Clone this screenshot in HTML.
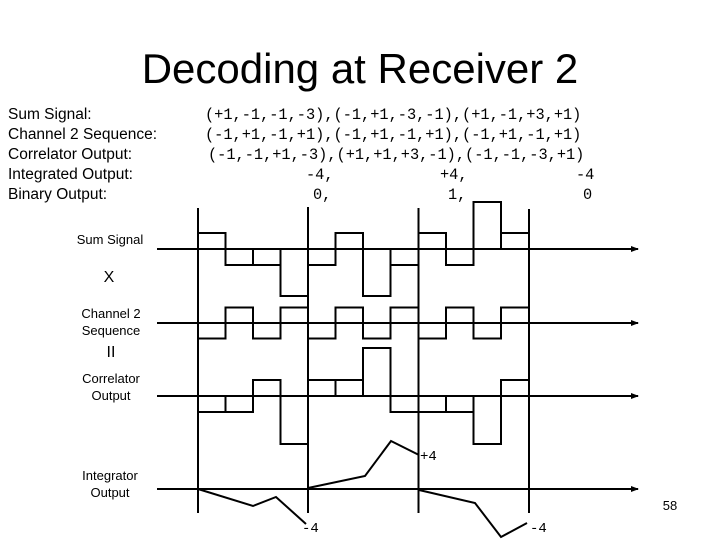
<!DOCTYPE html>
<html><head><meta charset="utf-8"><style>
html,body{margin:0;padding:0;background:#fff;}
body{width:720px;height:540px;overflow:hidden;position:relative;}
</style></head><body>
<svg width="720" height="540" viewBox="0 0 720 540" xmlns="http://www.w3.org/2000/svg" style="position:absolute;left:0;top:0">
<defs><marker id="ar" markerWidth="8" markerHeight="8" refX="7" refY="4" orient="auto" markerUnits="userSpaceOnUse"><path d="M0,1 L8,4 L0,7 Z" fill="#000"/></marker></defs>
<text x="360" y="83" font-family="Liberation Sans, sans-serif" font-size="42" text-anchor="middle">Decoding at Receiver 2</text>
<g font-family="Liberation Sans, sans-serif" font-size="15.5">
<text x="8" y="119">Sum Signal:</text>
<text x="8" y="139">Channel 2 Sequence:</text>
<text x="8" y="159">Correlator Output:</text>
<text x="8" y="179">Integrated Output:</text>
<text x="8" y="199">Binary Output:</text>
</g>
<g font-family="Liberation Mono, monospace" font-size="15.3">
<text x="205" y="119">(+1,-1,-1,-3),(-1,+1,-3,-1),(+1,-1,+3,+1)</text>
<text x="205" y="139">(-1,+1,-1,+1),(-1,+1,-1,+1),(-1,+1,-1,+1)</text>
<text x="208" y="159">(-1,-1,+1,-3),(+1,+1,+3,-1),(-1,-1,-3,+1)</text>
<text x="306" y="179">-4,</text><text x="440" y="179">+4,</text><text x="576" y="179">-4</text>
<text x="313" y="199">0,</text><text x="448" y="199">1,</text><text x="583" y="199">0</text>
</g>
<g font-family="Liberation Sans, sans-serif" font-size="13" text-anchor="middle">
<text x="110" y="244">Sum Signal</text>
<text x="109" y="282" font-size="16">X</text>
<text x="111" y="318">Channel 2</text>
<text x="111" y="335">Sequence</text>
<text x="111" y="357" font-size="16">II</text>
<text x="111" y="383">Correlator</text>
<text x="111" y="400">Output</text>
<text x="110" y="480">Integrator</text>
<text x="110" y="497">Output</text>
<text x="670" y="510">58</text>
</g>
<g stroke="#000" stroke-width="2" fill="none">
<line x1="198" y1="208" x2="198" y2="513"/>
<line x1="308" y1="207" x2="308" y2="513"/>
<line x1="418.5" y1="208" x2="418.5" y2="513"/>
<line x1="529" y1="209" x2="529" y2="513"/>
<line x1="157" y1="249" x2="638" y2="249" marker-end="url(#ar)"/>
<line x1="157" y1="323" x2="638" y2="323" marker-end="url(#ar)"/>
<line x1="157" y1="396" x2="638" y2="396" marker-end="url(#ar)"/>
<line x1="157" y1="489" x2="638" y2="489" marker-end="url(#ar)"/>
<!-- Sum signal -->
<rect x="198" y="233" width="27.5" height="16"/>
<rect x="225.5" y="249" width="27.5" height="16"/>
<rect x="253" y="249" width="27.5" height="16"/>
<rect x="280.5" y="249" width="27.5" height="47"/>
<rect x="308" y="249" width="27.5" height="16"/>
<rect x="335.5" y="233" width="27.5" height="16"/>
<rect x="363" y="249" width="27.5" height="47"/>
<rect x="390.5" y="249" width="28" height="16"/>
<rect x="418.5" y="233" width="27.5" height="16"/>
<rect x="446" y="249" width="27.5" height="16"/>
<rect x="473.5" y="202" width="27.5" height="47"/>
<rect x="501" y="233" width="28" height="16"/>
<!-- Channel 2 -->
<rect x="198" y="323" width="27.5" height="15.5"/>
<rect x="225.5" y="307.5" width="27.5" height="15.5"/>
<rect x="253" y="323" width="27.5" height="15.5"/>
<rect x="280.5" y="307.5" width="27.5" height="15.5"/>
<rect x="308" y="323" width="27.5" height="15.5"/>
<rect x="335.5" y="307.5" width="27.5" height="15.5"/>
<rect x="363" y="323" width="27.5" height="15.5"/>
<rect x="390.5" y="307.5" width="28" height="15.5"/>
<rect x="418.5" y="323" width="27.5" height="15.5"/>
<rect x="446" y="307.5" width="27.5" height="15.5"/>
<rect x="473.5" y="323" width="27.5" height="15.5"/>
<rect x="501" y="307.5" width="28" height="15.5"/>
<!-- Correlator -->
<rect x="198" y="396" width="27.5" height="16"/>
<rect x="225.5" y="396" width="27.5" height="16"/>
<rect x="253" y="380" width="27.5" height="16"/>
<rect x="280.5" y="396" width="27.5" height="48"/>
<rect x="308" y="380" width="27.5" height="16"/>
<rect x="335.5" y="380" width="27.5" height="16"/>
<rect x="363" y="348" width="27.5" height="48"/>
<rect x="390.5" y="396" width="28" height="16"/>
<rect x="418.5" y="396" width="27.5" height="16"/>
<rect x="446" y="396" width="27.5" height="16"/>
<rect x="473.5" y="396" width="27.5" height="48"/>
<rect x="501" y="380" width="28" height="16"/>
<!-- Integrator -->
<polyline points="198,489 253,506 276,497 306,524"/>
<polyline points="308,488 365,476 391,441 419,455"/>
<polyline points="419,490 475,503 501,537 527,523"/>
</g>
<g font-family="Liberation Mono, monospace" font-size="14">
<text x="420" y="460">+4</text>
<text x="302" y="532">-4</text>
<text x="530" y="532">-4</text>
</g>
</svg>
</body></html>
